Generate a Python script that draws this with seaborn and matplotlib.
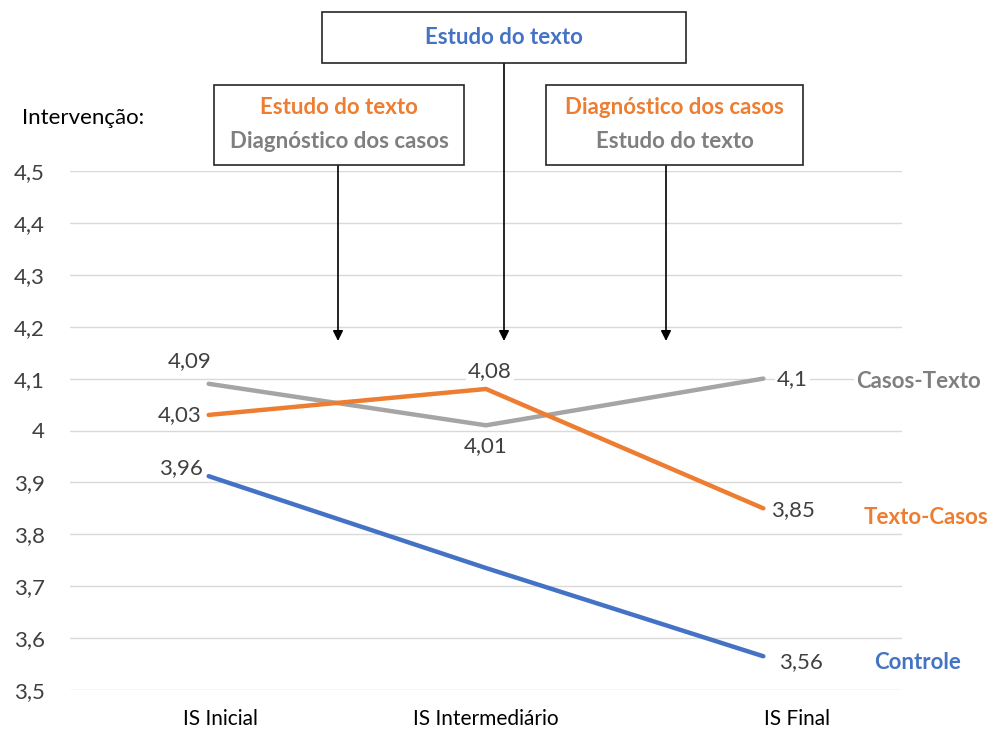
import pandas as pd
import matplotlib.pyplot as plt
import matplotlib.transforms as mtransforms
import seaborn as sns
from matplotlib.patches import Rectangle, FancyArrowPatch

# dados
etapas = ['IS Inicial', 'IS Intermediário', 'IS Final']
grupos = ['Casos-Texto', 'Texto-Casos', 'Controle']
casos_texto = [4.09, 4.01, 4.10]
texto_casos = [4.03, 4.08, 3.85]
controle = [3.912, 3.735, 3.565]   # linha desenhada (o rotulo inicial diz 3,96)
rot_casos_texto = ['4,09', '4,01', '4,1']
rot_texto_casos = ['4,03', '4,08', '3,85']
rot_controle = ['3,96', '', '3,56']
yticks = [3.5, 3.6, 3.7, 3.8, 3.9, 4.0, 4.1, 4.2, 4.3, 4.4, 4.5]
ytick_labels = ['3,5', '3,6', '3,7', '3,8', '3,9', '4', '4,1', '4,2', '4,3', '4,4', '4,5']

AZUL = '#4472C4'
LARANJA = '#ED7D31'
CINZA = '#A5A5A5'
CINZA_TXT = '#7F7F7F'
TXT = '#404040'

df = pd.DataFrame({
    'etapa': etapas * 3,
    'grupo': [g for g in grupos for _ in etapas],
    'valor': casos_texto + texto_casos + controle,
})

sns.set_style('white')
plt.rcParams['font.family'] = ['Lato', 'DejaVu Sans']

W, H = 991, 733
fig = plt.figure(figsize=(W / 100, H / 100), dpi=100)
ax = fig.add_axes([70 / W, 1 - 690 / H, (902 - 70) / W, (690 - 171) / H])

sns.lineplot(data=df, x='etapa', y='valor', hue='grupo', hue_order=grupos,
             palette=[CINZA, LARANJA, AZUL], linewidth=3.2, legend=False, ax=ax,
             sort=False, zorder=3)

ax.set_xlim(-0.5, 2.5)
ax.set_ylim(3.5, 4.5)
ax.set_yticks(yticks)
ax.set_yticklabels(ytick_labels, fontsize=16, color=TXT)
ax.tick_params(axis='x', labelsize=15, colors='black', pad=14, length=0)
ax.tick_params(axis='y', pad=18, length=0)
ax.yaxis.grid(True, color='#D9D9D9', linewidth=1)
ax.set_axisbelow(True)
ax.set_xlabel('')
ax.set_ylabel('')
for s in ax.spines.values():
    s.set_visible(False)

# deslocamento dos rotulos do eixo x como no original
for lab, dx in zip(ax.get_xticklabels(), [12, 0, 34]):
    lab.set_transform(lab.get_transform() +
                      mtransforms.ScaledTranslation(dx / 100, 0, fig.dpi_scale_trans))

bb = dict(boxstyle='square,pad=0.1', fc='white', ec='none')

def rotular(vals, rots, offsets):
    for i, (v, r, off) in enumerate(zip(vals, rots, offsets)):
        if r:
            ax.annotate(r, (i, v), xytext=off, textcoords='offset points',
                        ha='center', va='center', fontsize=16, color=TXT,
                        bbox=bb, zorder=4)

rotular(casos_texto, rot_casos_texto, [(-14, 16), (0, -15), (21, 0)])
rotular(texto_casos, rot_texto_casos, [(-21, 0), (3, 13), (21, -1)])
rotular(controle, rot_controle, [(-20, 6), (0, 0), (27, -4)])

# nomes das series a direita
ax.text(2.336, casos_texto[2] - 0.006, 'Casos-Texto', color=CINZA_TXT, fontsize=16,
        fontweight='bold', va='center', ha='left', bbox=bb)
ax.text(2.36, texto_casos[2] - 0.018, 'Texto-Casos', color=LARANJA, fontsize=16,
        fontweight='bold', va='center', ha='left', bbox=bb)
ax.text(2.40, controle[2] - 0.012, 'Controle', color=AZUL, fontsize=16,
        fontweight='bold', va='center', ha='left', bbox=bb)

fig.text(22 / W, 1 - 118 / H, 'Intervenção:', fontsize=16, color='black',
         va='center', ha='left')

def caixa(x0, y0, x1, y1, linhas):
    fig.patches.append(Rectangle((x0 / W, 1 - y1 / H), (x1 - x0) / W, (y1 - y0) / H,
                                 transform=fig.transFigure, fc='white', ec='#262626',
                                 lw=1.2, zorder=5))
    n = len(linhas)
    for k, (t, c) in enumerate(linhas):
        yc = (y0 + y1) / 2 + (k - (n - 1) / 2) * 34
        fig.text((x0 + x1) / 2 / W, 1 - yc / H, t, color=c, fontsize=16,
                 fontweight='bold', ha='center', va='center', zorder=6)

def seta(x, y0, y1):
    fig.patches.append(FancyArrowPatch(
        (x / W, 1 - y0 / H), (x / W, 1 - y1 / H), transform=fig.transFigure,
        arrowstyle='-|>,head_length=6,head_width=3', color='black', lw=1.2,
        shrinkA=0, shrinkB=0, zorder=4))

caixa(322, 12, 686, 63, [('Estudo do texto', AZUL)])
caixa(214, 85, 464, 165, [('Estudo do texto', LARANJA), ('Diagnóstico dos casos', CINZA_TXT)])
caixa(546, 85, 803, 165, [('Diagnóstico dos casos', LARANJA), ('Estudo do texto', CINZA_TXT)])
seta(504, 63, 341)
seta(338, 165, 341)
seta(666, 165, 341)

fig.savefig('out.png', dpi=100, facecolor='white')
